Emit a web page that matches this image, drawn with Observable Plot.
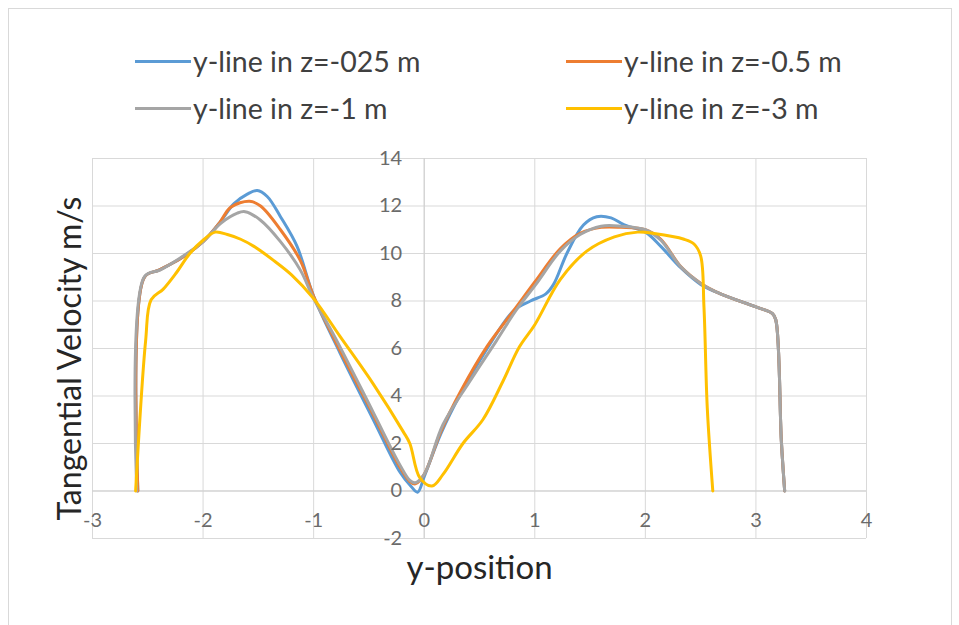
<!DOCTYPE html>
<html><head><meta charset="utf-8">
<script src="https://cdn.jsdelivr.net/npm/d3@7"></script>
<script src="https://cdn.jsdelivr.net/npm/@observablehq/plot@0.6"></script>
<style>
body{margin:0;background:#fff;}
#wrap{position:relative;width:959px;height:625px;overflow:hidden;background:#fff;font-family:Lato,"Open Sans",sans-serif;}
#border{position:absolute;left:8px;top:8px;width:942px;height:700px;border:1px solid #d9d9d9;z-index:3;pointer-events:none;}
#chart{position:absolute;left:0;top:0;}
#legend{position:absolute;left:0;top:0;width:959px;height:140px;z-index:2;}
.leg{position:absolute;display:flex;align-items:center;font-size:28.5px;color:#404040;white-space:nowrap;height:30px;}
.leg .sw{display:inline-block;width:56px;height:3px;margin-right:2px;}
</style></head>
<body><div id="wrap"><div id="chart"></div><div id="legend"></div><div id="border"></div></div>
<script>
// ---- data ----
const seriesNames = ["y-line in z=-025 m", "y-line in z=-0.5 m", "y-line in z=-1 m", "y-line in z=-3 m"];
const seriesColors = ["#5B9BD5", "#ED7D31", "#A5A5A5", "#FFC000"];

const blueX = [-2.59,-2.53,-2.4,-2.2,-2.0,-1.85,-1.72,-1.6,-1.51,-1.42,-1.3,-1.15,-1.0,-0.76,-0.46,-0.22,-0.12,-0.06,0.0,0.15,0.33,0.57,0.81,0.96,1.1,1.17,1.29,1.44,1.56,1.69,1.81,2.0,2.14,2.32,2.5,2.68,3.0,3.15,3.18,3.23,3.26];
const blueY = [0,9.0,9.3,9.8,10.5,11.3,12.1,12.5,12.65,12.4,11.55,10.3,8.2,5.8,3.0,0.8,0.2,-0.05,0.6,2.4,4.1,6.0,7.6,8.0,8.3,8.7,10.0,11.2,11.55,11.5,11.2,10.9,10.3,9.4,8.7,8.3,7.75,7.47,7.2,2.1,0];

const orangeX = [-2.59,-2.53,-2.4,-2.2,-2.0,-1.85,-1.75,-1.58,-1.48,-1.3,-1.12,-1.0,-0.76,-0.46,-0.22,-0.13,-0.08,0.0,0.15,0.33,0.57,0.81,1.0,1.23,1.41,1.6,1.78,2.0,2.14,2.32,2.5,2.68,3.0,3.15,3.18,3.23,3.26];
const orangeY = [0,9.0,9.3,9.8,10.5,11.3,11.95,12.2,12.0,11.0,9.7,8.2,5.9,3.2,1.0,0.4,0.3,0.7,2.5,4.2,6.1,7.6,8.8,10.2,10.85,11.1,11.1,11.0,10.6,9.45,8.75,8.3,7.75,7.47,7.2,2.1,0];

const grayX = [-2.6,-2.53,-2.39,-2.21,-2.0,-1.84,-1.69,-1.62,-1.48,-1.3,-1.12,-1.0,-0.81,-0.46,-0.22,-0.13,-0.08,0.0,0.17,0.41,0.65,0.83,1.01,1.23,1.41,1.6,1.78,2.0,2.14,2.32,2.5,2.68,3.0,3.15,3.18,3.23,3.26];
const grayY = [0,9.03,9.3,9.8,10.5,11.27,11.7,11.76,11.4,10.5,9.3,8.1,6.5,3.3,1.1,0.45,0.35,0.7,2.8,4.6,6.3,7.6,8.7,10.1,10.8,11.15,11.15,11.0,10.56,9.44,8.74,8.3,7.75,7.47,7.2,2.1,0];

const yellowX = [-2.61,-2.52,-2.47,-2.36,-2.24,-2.12,-1.99,-1.89,-1.78,-1.66,-1.54,-1.36,-1.2,-1.0,-0.76,-0.46,-0.19,-0.13,-0.04,0.07,0.17,0.35,0.53,0.71,0.86,1.0,1.23,1.47,1.72,1.93,2.08,2.35,2.44,2.5,2.53,2.56,2.61];
const yellowY = [0,6.3,8.05,8.5,9.2,10.0,10.6,10.9,10.8,10.6,10.3,9.7,9.1,8.1,6.5,4.5,2.5,2.0,0.56,0.21,0.7,2.0,3.0,4.6,6.06,7.0,8.9,10.1,10.7,10.9,10.84,10.6,10.4,9.9,7.75,3.5,0];

const xTicks = [-3,-2,-1,0,1,2,3,4];
const yTicks = [-2,0,2,4,6,8,10,12,14];
const xTitle = "y-position";
const yTitle = "Tangential Velocity m/s";

// ---- build ----
const allX = [blueX, orangeX, grayX, yellowX];
const allY = [blueY, orangeY, grayY, yellowY];
const seriesData = allX.map((xs, i) => xs.map((x, j) => ({x, y: allY[i][j], s: seriesNames[i]})));

const grid = "#d9d9d9";
const lineMarks = seriesData.map((d, i) =>
  Plot.line(d, {x: "x", y: "y", stroke: seriesColors[i], strokeWidth: 3, curve: "catmull-rom", strokeLinejoin: "round", strokeLinecap: "round"}));

const chart = Plot.plot({
  width: 959, height: 625,
  marginLeft: 92, marginRight: 93, marginTop: 158, marginBottom: 87,
  style: {fontFamily: "Lato, 'Open Sans', sans-serif", background: "transparent", overflow: "visible"},
  x: {domain: [-3, 4], axis: null},
  y: {domain: [-2, 14], axis: null},
  marks: [
    Plot.ruleX(xTicks, {stroke: grid, strokeWidth: 1}),
    Plot.ruleY(yTicks, {stroke: grid, strokeWidth: 1}),
    Plot.ruleX([0], {stroke: "#cfcfcf", strokeWidth: 1}),
    Plot.ruleY([0], {stroke: "#cfcfcf", strokeWidth: 1}),
    ...lineMarks,
    Plot.text(yTicks, {x: 0, y: d => d, text: d => String(d), dx: -22, textAnchor: "end", fontSize: 20, fill: "#6b6b6b"}),
    Plot.text(xTicks, {x: d => d, y: 0, text: d => String(d), dy: 30, textAnchor: "middle", fontSize: 20, fill: "#6b6b6b"}),
    Plot.text([xTitle], {frameAnchor: "bottom", textAnchor: "middle", lineAnchor: "middle", dy: 30, fontSize: 33, fill: "#262626"}),
    Plot.text([yTitle], {frameAnchor: "left", textAnchor: "middle", lineAnchor: "middle", dx: -22, dy: 10, rotate: -90, fontSize: 32, fill: "#262626"})
  ]
});
document.getElementById("chart").appendChild(chart);

// ---- legend (HTML) ----
const legPos = [[135, 46], [566, 46], [135, 93], [566, 93]];
const legend = document.getElementById("legend");
seriesNames.forEach((name, i) => {
  const el = document.createElement("div");
  el.className = "leg";
  el.style.left = legPos[i][0] + "px";
  el.style.top = legPos[i][1] + "px";
  const sw = document.createElement("span");
  sw.className = "sw";
  sw.style.background = seriesColors[i];
  const tx = document.createElement("span");
  tx.textContent = name;
  el.appendChild(sw); el.appendChild(tx);
  legend.appendChild(el);
});
</script>
</body></html>
